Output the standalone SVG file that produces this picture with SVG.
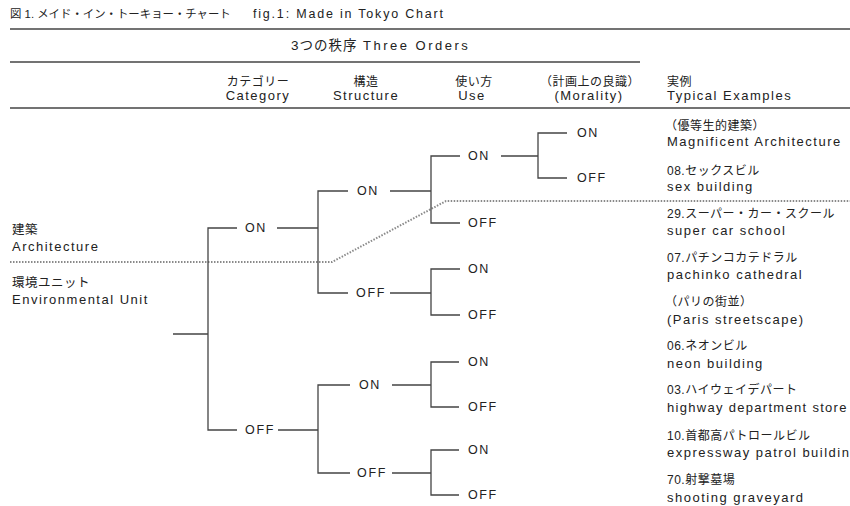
<svg xmlns="http://www.w3.org/2000/svg" width="850" height="506" viewBox="0 0 850 506">
<style>
text{font-family:"Liberation Sans","Noto Sans CJK JP",sans-serif;fill:#222;font-size:13px;letter-spacing:1.5px}
.j{font-size:12px;letter-spacing:0.5px}
.c{text-anchor:middle}
.lab{font-size:12.5px;letter-spacing:1.6px}
.rule{stroke:#444;stroke-width:1.6;fill:none}
.ln{stroke:#444;stroke-width:1.3;fill:none}
.dot{stroke:#8a8a8a;stroke-width:2;stroke-dasharray:1.5 1.5;fill:none}
</style>
<rect width="850" height="506" fill="#fff"/>
<g id="header">
<text x="10" y="18"><tspan class="j" style="font-size:11.4px;letter-spacing:0px">図 1. メイド・イン・トーキョー・チャート</tspan><tspan x="253" style="font-size:12.5px;letter-spacing:1.8px">fig.1: Made in Tokyo Chart</tspan></text>
<line x1="10" y1="29" x2="850" y2="29" class="rule"/>
<text x="291" y="50"><tspan class="j" style="font-size:13.5px;letter-spacing:1px">3つの秩序</tspan><tspan x="363" style="letter-spacing:2.5px">Three Orders</tspan></text>
<line x1="10" y1="62" x2="640" y2="62" class="rule"/>
<text x="258" y="86" class="c j">カテゴリー</text>
<text x="258" y="100" class="c">Category</text>
<text x="366" y="86" class="c j">構造</text>
<text x="366" y="100" class="c">Structure</text>
<text x="474" y="86" class="c j">使い方</text>
<text x="472" y="100" class="c">Use</text>
<text x="590" y="86" class="c j">（計画上の良識）</text>
<text x="589" y="100" class="c">(Morality)</text>
<text x="667" y="86" class="j">実例</text>
<text x="667" y="100">Typical Examples</text>
<line x1="10" y1="108" x2="850" y2="108" class="rule"/>
</g>
<g id="left-labels">
<text x="12" y="234" class="j" style="font-size:12.5px">建築</text>
<text x="12" y="251">Architecture</text>
<text x="12" y="287" class="j" style="font-size:12.5px">環境ユニット</text>
<text x="12" y="304">Environmental Unit</text>
</g>
<g id="connectors">
<path class="dot" d="M10 262 H332 L446 201 H850"/>
<path class="ln" d="M173 334 H208 M237 228 H208 V430 H237"/>
<path class="ln" d="M277 228 H318 M348 191 H318 V293 H348"/>
<path class="ln" d="M390 191 H431 M460 156 H431 V223 H460"/>
<path class="ln" d="M501 156 H538 M567 133 H538 V178 H567"/>
<path class="ln" d="M390 293 H431 M460 269 H431 V315 H460"/>
<path class="ln" d="M278 430 H318 M350 385 H318 V473 H350"/>
<path class="ln" d="M392 385 H431 M459 362 H431 V407 H459"/>
<path class="ln" d="M392 473 H431 M459 450 H431 V495 H459"/>
</g>
<g id="n-cat-on"><text x="256" y="232" class="c lab">ON</text></g>
<g id="n-cat-off"><text x="260" y="434" class="c lab">OFF</text></g>
<g id="n-str-on"><text x="368" y="195" class="c lab">ON</text></g>
<g id="n-str-off"><text x="371" y="297" class="c lab">OFF</text></g>
<g id="n-str-on2"><text x="370" y="389" class="c lab">ON</text></g>
<g id="n-str-off2"><text x="372" y="477" class="c lab">OFF</text></g>
<g id="n-use-on"><text x="468" y="160" class="lab">ON</text></g>
<g id="n-use-off"><text x="468" y="227" class="lab">OFF</text></g>
<g id="n-use-on2"><text x="468" y="273" class="lab">ON</text></g>
<g id="n-use-off2"><text x="468" y="319" class="lab">OFF</text></g>
<g id="n-use-on3"><text x="468" y="366" class="lab">ON</text></g>
<g id="n-use-off3"><text x="468" y="411" class="lab">OFF</text></g>
<g id="n-use-on4"><text x="468" y="454" class="lab">ON</text></g>
<g id="n-use-off4"><text x="468" y="499" class="lab">OFF</text></g>
<g id="n-mor-on"><text x="577" y="137" class="lab">ON</text></g>
<g id="n-mor-off"><text x="577" y="182" class="lab">OFF</text></g>
<g id="examples">
<text x="665" y="130" class="j">（優等生的建築）</text>
<text x="667" y="146">Magnificent Architecture</text>
<text x="667" y="175" class="j">08.セックスビル</text>
<text x="667" y="191">sex building</text>
<text x="667" y="218" class="j">29.スーパー・カー・スクール</text>
<text x="667" y="235">super car school</text>
<text x="667" y="262" class="j">07.パチンコカテドラル</text>
<text x="667" y="279">pachinko cathedral</text>
<text x="665" y="306" class="j">（パリの街並）</text>
<text x="667" y="324">(Paris streetscape)</text>
<text x="667" y="350" class="j">06.ネオンビル</text>
<text x="667" y="368">neon building</text>
<text x="667" y="394" class="j">03.ハイウェイデパート</text>
<text x="667" y="412" style="letter-spacing:1.3px">highway department store</text>
<text x="667" y="440" class="j">10.首都高パトロールビル</text>
<text x="667" y="457">expressway patrol building</text>
<text x="667" y="484" class="j">70.射撃墓場</text>
<text x="667" y="502">shooting graveyard</text>
</g>
</svg>
